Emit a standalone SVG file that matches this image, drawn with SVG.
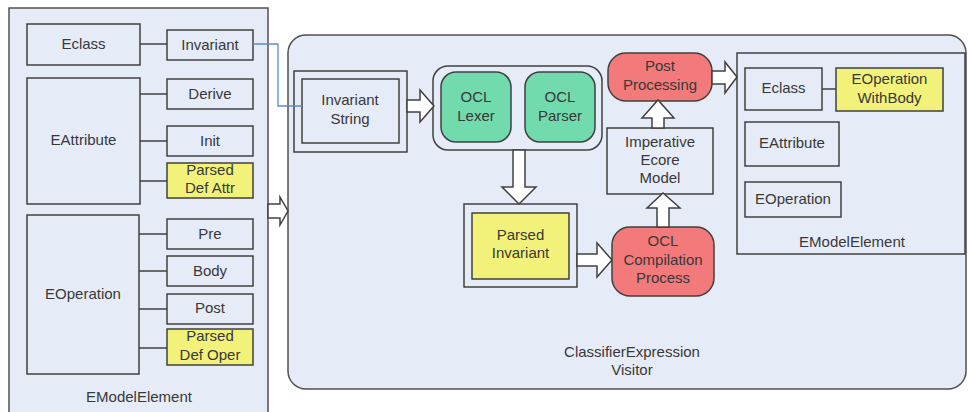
<svg xmlns="http://www.w3.org/2000/svg" width="968" height="412" viewBox="0 0 968 412">
  <style>
    .panel { fill: #E6ECF7; stroke: #505050; stroke-width: 1.5; }
    .box { fill: #E6ECF7; stroke: #404040; stroke-width: 1.5; }
    .yellow { fill: #F2F27A; stroke: #404040; stroke-width: 1.5; }
    .green { fill: #72DBAD; stroke: #404040; stroke-width: 1.5; }
    .red { fill: #F27A7A; stroke: #404040; stroke-width: 1.5; }
    .lbl { font-family: "Liberation Sans", Arial, sans-serif; font-size: 15px; fill: #383838; text-anchor: middle; }
    .link { stroke: #404040; stroke-width: 1.5; fill: none; }
    .blue { stroke: #5B8BD0; stroke-width: 1.3; fill: none; }
    .barrow { fill: #FFFFFF; stroke: #404040; stroke-width: 1.5; stroke-linejoin: miter; }
  </style>
  <rect width="968" height="412" fill="#FFFFFF"/>

  <!-- containers -->
  <g id="source-model">
    <rect class="panel" x="9" y="8" width="259" height="420"/>
    <text class="lbl" x="139" y="402">EModelElement</text>
  </g>
  <g id="visitor">
    <rect class="panel" x="288" y="35" width="678" height="354" rx="18" ry="18"/>
    <text class="lbl" x="632" y="357">ClassifierExpression</text>
    <text class="lbl" x="632" y="375">Visitor</text>
  </g>
  <g id="target-model">
    <rect class="box" x="737" y="53" width="228" height="201"/>
    <text class="lbl" x="852" y="247">EModelElement</text>
  </g>

  <!-- left-hand model elements -->
  <g id="src-eclass">
    <rect class="box" x="27" y="24" width="113" height="41"/>
    <text class="lbl" x="83.5" y="49">Eclass</text>
  </g>
  <g id="src-invariant">
    <rect class="box" x="167" y="30" width="86" height="30"/>
    <text class="lbl" x="210" y="50">Invariant</text>
  </g>
  <g id="src-eattribute">
    <rect class="box" x="27" y="78" width="113" height="126"/>
    <text class="lbl" x="83.5" y="145">EAttribute</text>
  </g>
  <g id="src-derive">
    <rect class="box" x="167" y="79" width="86" height="30"/>
    <text class="lbl" x="210" y="99">Derive</text>
  </g>
  <g id="src-init">
    <rect class="box" x="167" y="126" width="86" height="30"/>
    <text class="lbl" x="210" y="146">Init</text>
  </g>
  <g id="src-parsed-def-attr">
    <rect class="yellow" x="167" y="163" width="86" height="35"/>
    <text class="lbl" x="210" y="175">Parsed</text>
    <text class="lbl" x="210" y="193">Def Attr</text>
  </g>
  <g id="src-eoperation">
    <rect class="box" x="27" y="215" width="112" height="159"/>
    <text class="lbl" x="83" y="299">EOperation</text>
  </g>
  <g id="src-pre">
    <rect class="box" x="167" y="219" width="86" height="30"/>
    <text class="lbl" x="210" y="239">Pre</text>
  </g>
  <g id="src-body">
    <rect class="box" x="167" y="256" width="86" height="30"/>
    <text class="lbl" x="210" y="276">Body</text>
  </g>
  <g id="src-post">
    <rect class="box" x="167" y="294" width="86" height="30"/>
    <text class="lbl" x="210" y="313">Post</text>
  </g>
  <g id="src-parsed-def-oper">
    <rect class="yellow" x="167" y="329" width="86" height="36"/>
    <text class="lbl" x="210" y="341">Parsed</text>
    <text class="lbl" x="210" y="360">Def Oper</text>
  </g>

  <!-- processing pipeline -->
  <g id="invariant-string">
    <rect class="box" x="294" y="71" width="113" height="81"/>
    <rect class="box" x="302" y="79" width="97" height="64"/>
    <text class="lbl" x="350" y="105">Invariant</text>
    <text class="lbl" x="350" y="124">String</text>
  </g>
  <g id="ocl-frontend">
    <rect class="box" x="433" y="66" width="169" height="84" rx="15" ry="15"/>
  </g>
  <g id="ocl-lexer">
    <rect class="green" x="441" y="72" width="70" height="70" rx="15" ry="15"/>
    <text class="lbl" x="476" y="102">OCL</text>
    <text class="lbl" x="476" y="121">Lexer</text>
  </g>
  <g id="ocl-parser">
    <rect class="green" x="525" y="72" width="70" height="70" rx="15" ry="15"/>
    <text class="lbl" x="560" y="102">OCL</text>
    <text class="lbl" x="560" y="121">Parser</text>
  </g>
  <g id="parsed-invariant">
    <rect class="box" x="464" y="204" width="113" height="83"/>
    <rect class="yellow" x="472" y="213" width="97" height="66"/>
    <text class="lbl" x="520.5" y="240">Parsed</text>
    <text class="lbl" x="520.5" y="258">Invariant</text>
  </g>
  <g id="ocl-compilation">
    <rect class="red" x="612" y="227" width="102" height="69" rx="18" ry="18"/>
    <text class="lbl" x="663" y="246">OCL</text>
    <text class="lbl" x="663" y="265">Compilation</text>
    <text class="lbl" x="663" y="283">Process</text>
  </g>
  <g id="imperative-ecore">
    <rect class="box" x="607" y="128" width="106" height="66"/>
    <text class="lbl" x="660" y="147">Imperative</text>
    <text class="lbl" x="660" y="165">Ecore</text>
    <text class="lbl" x="660" y="183">Model</text>
  </g>
  <g id="post-processing">
    <rect class="red" x="608" y="53" width="104" height="48" rx="18" ry="18"/>
    <text class="lbl" x="660" y="71">Post</text>
    <text class="lbl" x="660" y="90">Processing</text>
  </g>

  <!-- right-hand model elements -->
  <g id="dst-eclass">
    <rect class="box" x="745" y="68" width="77" height="42"/>
    <text class="lbl" x="783.5" y="93">Eclass</text>
  </g>
  <g id="dst-eoperation-withbody">
    <rect class="yellow" x="836" y="68" width="107" height="43"/>
    <text class="lbl" x="889.5" y="84">EOperation</text>
    <text class="lbl" x="889.5" y="103">WithBody</text>
  </g>
  <g id="dst-eattribute">
    <rect class="box" x="745" y="122" width="94" height="44"/>
    <text class="lbl" x="792" y="148">EAttribute</text>
  </g>
  <g id="dst-eoperation">
    <rect class="box" x="745" y="182" width="96" height="35"/>
    <text class="lbl" x="793" y="204">EOperation</text>
  </g>

  <!-- connectors -->
  <g id="connectors">
    <line class="link" x1="140" y1="44" x2="167" y2="44"/>
    <line class="link" x1="140" y1="94" x2="167" y2="94"/>
    <line class="link" x1="140" y1="141" x2="167" y2="141"/>
    <line class="link" x1="140" y1="181" x2="167" y2="181"/>
    <line class="link" x1="139" y1="234" x2="167" y2="234"/>
    <line class="link" x1="139" y1="271" x2="167" y2="271"/>
    <line class="link" x1="139" y1="309" x2="167" y2="309"/>
    <line class="link" x1="139" y1="348" x2="167" y2="348"/>
    <line class="link" x1="822" y1="89" x2="836" y2="89"/>

    <polyline class="blue" points="253,44 278,44 278,106 302,106"/>

    <!-- block arrows -->
    <polygon class="barrow" points="268,204 280,204 280,197 288,211 280,225 280,218 268,218"/>
    <polygon class="barrow" points="407,100 420,100 420,90 434,106 420,122 420,112 407,112"/>
    <polygon class="barrow" points="513,150 525,150 525,187 536,187 519,204 502,187 513,187"/>
    <polygon class="barrow" points="577,254 597,254 597,243 612,260 597,277 597,266 577,266"/>
    <polygon class="barrow" points="657,227 669,227 669,208 680,208 663,193 647,208 657,208"/>
    <polygon class="barrow" points="652,128 664,128 664,118 674,118 658,100 642,118 652,118"/>
    <polygon class="barrow" points="712,71 725,71 725,62 737,77 725,93 725,84 712,84"/>
  </g>
</svg>
